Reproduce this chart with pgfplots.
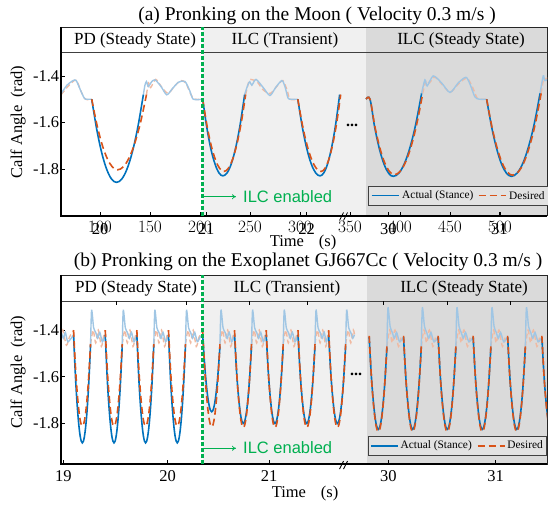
\documentclass[border=0pt]{standalone}
\usepackage{pgfplots}
\pgfplotsset{compat=1.18}
\usepackage{pgfplotstable}
\usetikzlibrary{arrows.meta}
\usepackage{fontspec}
\setmainfont{Liberation Serif}
\newfontfamily\arialfont{Liberation Sans}
\definecolor{mblue}{RGB}{0,114,189}
\definecolor{morange}{RGB}{217,83,25}
\definecolor{flblue}{RGB}{160,198,228}
\definecolor{florange}{RGB}{240,186,162}
\definecolor{ilcgreen}{RGB}{0,176,80}
\definecolor{shadeA}{RGB}{240,240,240}
\definecolor{shadeB}{RGB}{218,218,218}
\definecolor{legfill}{RGB}{226,226,226}
\newcommand{\fs}[1]{\fontsize{#1}{#1}\selectfont}

% ---------------- Panel (a): Moon ----------------
\pgfplotstableread[row sep=\\]{t v\\
19.92 -1.500\\ 19.968 -1.6285\\ 20.016 -1.7285\\ 20.064 -1.7999\\ 20.112 -1.8427\\ 20.16 -1.857\\ 20.212 -1.8419\\ 20.264 -1.7967\\ 20.316 -1.7213\\ 20.368 -1.6157\\ 20.42 -1.480\\
20.70 nan\\
20.994 -1.500\\ 21.033 -1.6184\\ 21.072 -1.7106\\ 21.112 -1.7764\\ 21.151 -1.8158\\ 21.19 -1.829\\ 21.232 -1.815\\ 21.274 -1.7732\\ 21.316 -1.7034\\ 21.358 -1.6056\\ 21.40 -1.480\\
21.60 nan\\
21.915 -1.500\\ 21.958 -1.6184\\ 22.001 -1.7106\\ 22.044 -1.7764\\ 22.087 -1.8158\\ 22.13 -1.829\\ 22.168 -1.815\\ 22.206 -1.7732\\ 22.244 -1.7034\\ 22.282 -1.6056\\ 22.32 -1.480\\
}\aBL
\pgfplotstableread[row sep=\\]{t v\\
19.92 -1.500\\ 19.97 -1.609\\ 20.02 -1.694\\ 20.07 -1.7545\\ 20.12 -1.7909\\ 20.17 -1.803\\ 20.226 -1.7901\\ 20.282 -1.7513\\ 20.338 -1.6867\\ 20.394 -1.5963\\ 20.45 -1.480\\
20.70 nan\\
20.994 -1.500\\ 21.035 -1.6116\\ 21.076 -1.6984\\ 21.118 -1.7604\\ 21.159 -1.7976\\ 21.20 -1.810\\ 21.242 -1.7968\\ 21.284 -1.7572\\ 21.326 -1.6912\\ 21.368 -1.5988\\ 21.41 -1.480\\
21.60 nan\\
21.915 -1.500\\ 21.96 -1.6116\\ 22.005 -1.6984\\ 22.05 -1.7604\\ 22.095 -1.7976\\ 22.14 -1.810\\ 22.178 -1.7968\\ 22.216 -1.7572\\ 22.254 -1.6912\\ 22.292 -1.5988\\ 22.33 -1.480\\
}\aOL
\pgfplotstableread[row sep=\\]{t v\\
29.80 -1.500\\ 29.835 -1.500\\ 29.877 -1.6192\\ 29.919 -1.7118\\ 29.961 -1.778\\ 30.003 -1.8178\\ 30.045 -1.831\\ 30.096 -1.8168\\ 30.147 -1.774\\ 30.198 -1.7028\\ 30.249 -1.6032\\ 30.30 -1.475\\
30.60 nan\\
30.886 -1.500\\ 30.931 -1.6192\\ 30.976 -1.7118\\ 31.020 -1.778\\ 31.065 -1.8178\\ 31.11 -1.831\\ 31.161 -1.8168\\ 31.213 -1.774\\ 31.264 -1.7028\\ 31.316 -1.6032\\ 31.367 -1.475\\
}\aBR
\pgfplotstableread[row sep=\\]{t v\\
29.80 -1.500\\ 29.835 -1.500\\ 29.879 -1.6166\\ 29.923 -1.7074\\ 29.967 -1.7722\\ 30.011 -1.811\\ 30.055 -1.824\\ 30.106 -1.810\\ 30.157 -1.7682\\ 30.208 -1.6984\\ 30.259 -1.6006\\ 30.31 -1.475\\
30.60 nan\\
30.886 -1.500\\ 30.933 -1.6174\\ 30.98 -1.7086\\ 31.026 -1.7738\\ 31.073 -1.813\\ 31.12 -1.826\\ 31.171 -1.812\\ 31.223 -1.7698\\ 31.274 -1.6996\\ 31.326 -1.6014\\ 31.377 -1.475\\
}\aOR
\pgfplotstableread[row sep=\\]{t v\\
19.625 -1.475\\ 19.68 -1.44\\ 19.74 -1.42\\ 19.77 -1.42\\ 19.81 -1.46\\ 19.85 -1.497\\ 19.88 -1.5\\ 19.92 -1.5\\
20.20 nan\\
20.42 -1.48\\ 20.435 -1.44\\ 20.45 -1.424\\ 20.468 -1.446\\ 20.50 -1.425\\ 20.533 -1.417\\ 20.59 -1.445\\ 20.646 -1.481\\ 20.70 -1.455\\ 20.76 -1.427\\ 20.823 -1.424\\ 20.87 -1.465\\ 20.903 -1.5\\ 20.994 -1.5\\
21.20 nan\\
21.40 -1.48\\ 21.43 -1.44\\ 21.45 -1.425\\ 21.47 -1.44\\ 21.51 -1.415\\ 21.58 -1.45\\ 21.645 -1.484\\ 21.70 -1.45\\ 21.76 -1.42\\ 21.79 -1.445\\ 21.82 -1.495\\ 21.85 -1.5\\ 21.915 -1.5\\
}\aBFL
\pgfplotstableread[row sep=\\]{t v\\
19.625 -1.48\\ 19.68 -1.45\\ 19.75 -1.42\\ 19.78 -1.425\\ 19.82 -1.47\\ 19.86 -1.5\\ 19.92 -1.5\\
20.20 nan\\
20.45 -1.48\\ 20.47 -1.43\\ 20.49 -1.45\\ 20.54 -1.415\\ 20.60 -1.45\\ 20.66 -1.475\\ 20.72 -1.445\\ 20.78 -1.42\\ 20.83 -1.43\\ 20.88 -1.48\\ 20.92 -1.5\\ 20.994 -1.5\\
21.20 nan\\
21.41 -1.48\\ 21.44 -1.425\\ 21.46 -1.415\\ 21.52 -1.425\\ 21.58 -1.46\\ 21.65 -1.475\\ 21.72 -1.44\\ 21.77 -1.42\\ 21.81 -1.46\\ 21.84 -1.5\\ 21.915 -1.5\\
}\aOFL
\pgfplotstableread[row sep=\\]{t v\\
30.30 -1.475\\ 30.33 -1.417\\ 30.35 -1.443\\ 30.405 -1.40\\ 30.48 -1.43\\ 30.556 -1.471\\ 30.63 -1.43\\ 30.70 -1.406\\ 30.74 -1.44\\ 30.78 -1.49\\ 30.82 -1.5\\ 30.886 -1.5\\
31.10 nan\\
31.367 -1.475\\ 31.396 -1.40\\ 31.41 -1.42\\ 31.45 -1.41\\
}\aBFR
\pgfplotstableread[row sep=\\]{t v\\
30.31 -1.475\\ 30.34 -1.42\\ 30.37 -1.43\\ 30.42 -1.405\\ 30.50 -1.445\\ 30.56 -1.47\\ 30.64 -1.43\\ 30.71 -1.41\\ 30.76 -1.45\\ 30.80 -1.495\\ 30.84 -1.5\\ 30.886 -1.5\\
31.10 nan\\
31.377 -1.475\\ 31.40 -1.41\\ 31.42 -1.415\\ 31.45 -1.40\\
}\aOFR

% ---------------- Panel (b): GJ667Cc ----------------
\pgfplotstableread[row sep=\\]{t v\\
19.100 -1.42\\ 19.121 -1.6226\\ 19.143 -1.7672\\ 19.164 -1.8541\\ 19.185 -1.883\\ 19.205 -1.8569\\ 19.225 -1.7785\\ 19.245 -1.6479\\ 19.265 -1.465\\ 19.30 nan\\
19.408 -1.42\\ 19.429 -1.6226\\ 19.451 -1.7672\\ 19.472 -1.8541\\ 19.493 -1.883\\ 19.513 -1.8569\\ 19.533 -1.7785\\ 19.553 -1.6479\\ 19.573 -1.465\\ 19.60 nan\\
19.715 -1.42\\ 19.736 -1.6226\\ 19.758 -1.7672\\ 19.779 -1.8541\\ 19.800 -1.883\\ 19.820 -1.8569\\ 19.840 -1.7785\\ 19.860 -1.6479\\ 19.880 -1.465\\ 19.90 nan\\
20.023 -1.42\\ 20.044 -1.6226\\ 20.066 -1.7672\\ 20.087 -1.8541\\ 20.108 -1.883\\ 20.128 -1.8569\\ 20.148 -1.7785\\ 20.168 -1.6479\\ 20.188 -1.465\\ 20.25 nan\\
20.355 -1.42\\ 20.377 -1.5644\\ 20.399 -1.6675\\ 20.421 -1.7294\\ 20.443 -1.75\\ 20.463 -1.7325\\ 20.483 -1.68\\ 20.503 -1.5925\\ 20.523 -1.47\\ 20.60 nan\\
20.665 -1.42\\ 20.686 -1.5862\\ 20.708 -1.705\\ 20.729 -1.7763\\ 20.750 -1.80\\ 20.770 -1.7794\\ 20.790 -1.7175\\ 20.810 -1.6144\\ 20.830 -1.47\\ 20.90 nan\\
20.973 -1.42\\ 20.994 -1.5862\\ 21.016 -1.705\\ 21.037 -1.7763\\ 21.058 -1.80\\ 21.078 -1.7794\\ 21.098 -1.7175\\ 21.118 -1.6144\\ 21.138 -1.47\\ 21.20 nan\\
21.282 -1.42\\ 21.303 -1.5862\\ 21.325 -1.705\\ 21.346 -1.7763\\ 21.367 -1.80\\ 21.387 -1.7794\\ 21.407 -1.7175\\ 21.427 -1.6144\\ 21.447 -1.47\\ 21.50 nan\\
21.580 -1.42\\ 21.601 -1.5862\\ 21.623 -1.705\\ 21.644 -1.7763\\ 21.665 -1.80\\ 21.685 -1.7794\\ 21.705 -1.7175\\ 21.725 -1.6144\\ 21.745 -1.47\\
}\bBL
\pgfplotstableread[row sep=\\]{t v\\
19.100 -1.40\\ 19.121 -1.5798\\ 19.143 -1.7082\\ 19.164 -1.7853\\ 19.185 -1.811\\ 19.205 -1.7891\\ 19.225 -1.7232\\ 19.245 -1.6136\\ 19.265 -1.46\\ 19.30 nan\\
19.408 -1.40\\ 19.429 -1.5798\\ 19.451 -1.7082\\ 19.472 -1.7853\\ 19.493 -1.811\\ 19.513 -1.7891\\ 19.533 -1.7232\\ 19.553 -1.6136\\ 19.573 -1.46\\ 19.60 nan\\
19.715 -1.40\\ 19.736 -1.5798\\ 19.758 -1.7082\\ 19.779 -1.7853\\ 19.800 -1.811\\ 19.820 -1.7891\\ 19.840 -1.7232\\ 19.860 -1.6136\\ 19.880 -1.46\\ 19.90 nan\\
20.023 -1.40\\ 20.044 -1.5798\\ 20.066 -1.7082\\ 20.087 -1.7853\\ 20.108 -1.811\\ 20.128 -1.7891\\ 20.148 -1.7232\\ 20.168 -1.6136\\ 20.188 -1.46\\ 20.25 nan\\
20.355 -1.40\\ 20.377 -1.5811\\ 20.399 -1.7105\\ 20.421 -1.7881\\ 20.443 -1.814\\ 20.463 -1.7919\\ 20.483 -1.7255\\ 20.503 -1.6149\\ 20.523 -1.46\\ 20.60 nan\\
20.665 -1.40\\ 20.686 -1.5824\\ 20.708 -1.7128\\ 20.729 -1.7909\\ 20.750 -1.817\\ 20.770 -1.7947\\ 20.790 -1.7278\\ 20.810 -1.6162\\ 20.830 -1.46\\ 20.90 nan\\
20.973 -1.40\\ 20.994 -1.5824\\ 21.016 -1.7128\\ 21.037 -1.7909\\ 21.058 -1.817\\ 21.078 -1.7947\\ 21.098 -1.7278\\ 21.118 -1.6162\\ 21.138 -1.46\\ 21.20 nan\\
21.282 -1.40\\ 21.303 -1.5824\\ 21.325 -1.7128\\ 21.346 -1.7909\\ 21.367 -1.817\\ 21.387 -1.7947\\ 21.407 -1.7278\\ 21.427 -1.6162\\ 21.447 -1.46\\ 21.50 nan\\
21.580 -1.40\\ 21.601 -1.5824\\ 21.623 -1.7128\\ 21.644 -1.7909\\ 21.665 -1.817\\ 21.685 -1.7947\\ 21.705 -1.7278\\ 21.725 -1.6162\\ 21.745 -1.46\\
}\bOL
\pgfplotstableread[row sep=\\]{t v\\
29.822 -1.43\\ 29.843 -1.6028\\ 29.865 -1.7263\\ 29.886 -1.8003\\ 29.907 -1.825\\ 29.927 -1.8031\\ 29.947 -1.7375\\ 29.967 -1.6281\\ 29.987 -1.475\\ 30.05 nan\\
30.142 -1.43\\ 30.163 -1.6028\\ 30.185 -1.7263\\ 30.206 -1.8003\\ 30.227 -1.825\\ 30.247 -1.8031\\ 30.267 -1.7375\\ 30.287 -1.6281\\ 30.307 -1.475\\ 30.40 nan\\
30.464 -1.43\\ 30.485 -1.6028\\ 30.507 -1.7263\\ 30.528 -1.8003\\ 30.549 -1.825\\ 30.569 -1.8031\\ 30.589 -1.7375\\ 30.609 -1.6281\\ 30.629 -1.475\\ 30.70 nan\\
30.790 -1.43\\ 30.811 -1.6028\\ 30.833 -1.7263\\ 30.854 -1.8003\\ 30.875 -1.825\\ 30.895 -1.8031\\ 30.915 -1.7375\\ 30.935 -1.6281\\ 30.955 -1.475\\ 31.05 nan\\
31.111 -1.43\\ 31.132 -1.6028\\ 31.154 -1.7263\\ 31.175 -1.8003\\ 31.196 -1.825\\ 31.216 -1.8031\\ 31.236 -1.7375\\ 31.256 -1.6281\\ 31.276 -1.475\\ 31.35 nan\\
31.430 -1.43\\ 31.451 -1.6028\\ 31.473 -1.7263\\ 31.494 -1.8003\\ 31.515 -1.825\\
}\bBR
\pgfplotstableread[row sep=\\]{t v\\
29.822 -1.425\\ 29.843 -1.6044\\ 29.865 -1.7325\\ 29.886 -1.8094\\ 29.907 -1.835\\ 29.927 -1.8122\\ 29.947 -1.7438\\ 29.967 -1.6297\\ 29.987 -1.47\\ 30.05 nan\\
30.142 -1.425\\ 30.163 -1.6044\\ 30.185 -1.7325\\ 30.206 -1.8094\\ 30.227 -1.835\\ 30.247 -1.8122\\ 30.267 -1.7438\\ 30.287 -1.6297\\ 30.307 -1.47\\ 30.40 nan\\
30.464 -1.425\\ 30.485 -1.6044\\ 30.507 -1.7325\\ 30.528 -1.8094\\ 30.549 -1.835\\ 30.569 -1.8122\\ 30.589 -1.7438\\ 30.609 -1.6297\\ 30.629 -1.47\\ 30.70 nan\\
30.790 -1.425\\ 30.811 -1.6044\\ 30.833 -1.7325\\ 30.854 -1.8094\\ 30.875 -1.835\\ 30.895 -1.8122\\ 30.915 -1.7438\\ 30.935 -1.6297\\ 30.955 -1.47\\ 31.05 nan\\
31.111 -1.425\\ 31.132 -1.6044\\ 31.154 -1.7325\\ 31.175 -1.8094\\ 31.196 -1.835\\ 31.216 -1.8122\\ 31.236 -1.7438\\ 31.256 -1.6297\\ 31.276 -1.47\\ 31.35 nan\\
31.430 -1.425\\ 31.451 -1.6044\\ 31.473 -1.7325\\ 31.494 -1.8094\\ 31.515 -1.835\\
}\bOR
\pgfplotstableread[row sep=\\]{t v\\
18.975 -1.40\\ 19.00 -1.435\\ 19.02 -1.41\\ 19.045 -1.45\\ 19.10 -1.42\\ 19.15 nan\\
19.265 -1.465\\ 19.275 -1.315\\ 19.295 -1.39\\ 19.315 -1.41\\ 19.335 -1.435\\ 19.355 -1.41\\ 19.38 -1.45\\ 19.408 -1.42\\ 19.45 nan\\
19.573 -1.465\\ 19.583 -1.315\\ 19.603 -1.39\\ 19.623 -1.41\\ 19.643 -1.435\\ 19.663 -1.41\\ 19.688 -1.45\\ 19.715 -1.42\\ 19.75 nan\\
19.88 -1.465\\ 19.89 -1.315\\ 19.91 -1.39\\ 19.93 -1.41\\ 19.95 -1.435\\ 19.97 -1.41\\ 19.995 -1.45\\ 20.023 -1.42\\ 20.06 nan\\
20.188 -1.465\\ 20.198 -1.315\\ 20.218 -1.39\\ 20.238 -1.41\\ 20.258 -1.435\\ 20.278 -1.41\\ 20.303 -1.45\\ 20.33 -1.43\\ 20.355 -1.42\\ 20.40 nan\\
20.523 -1.47\\ 20.533 -1.315\\ 20.553 -1.39\\ 20.573 -1.41\\ 20.593 -1.435\\ 20.613 -1.41\\ 20.638 -1.45\\ 20.665 -1.42\\ 20.70 nan\\
20.83 -1.47\\ 20.84 -1.315\\ 20.86 -1.39\\ 20.88 -1.41\\ 20.90 -1.435\\ 20.92 -1.41\\ 20.945 -1.45\\ 20.973 -1.42\\ 21.00 nan\\
21.138 -1.47\\ 21.148 -1.315\\ 21.168 -1.39\\ 21.188 -1.41\\ 21.208 -1.435\\ 21.228 -1.41\\ 21.253 -1.45\\ 21.282 -1.42\\ 21.32 nan\\
21.447 -1.47\\ 21.457 -1.315\\ 21.477 -1.39\\ 21.497 -1.41\\ 21.517 -1.435\\ 21.537 -1.41\\ 21.557 -1.45\\ 21.58 -1.42\\ 21.62 nan\\
21.745 -1.47\\ 21.755 -1.315\\ 21.775 -1.39\\ 21.795 -1.41\\ 21.815 -1.435\\ 21.83 -1.42\\
}\bBFL
\pgfplotstableread[row sep=\\]{t v\\
18.975 -1.44\\ 18.995 -1.40\\ 19.03 -1.465\\ 19.06 -1.43\\ 19.10 -1.40\\ 19.15 nan\\
19.265 -1.46\\ 19.29 -1.40\\ 19.315 -1.455\\ 19.34 -1.40\\ 19.37 -1.47\\ 19.39 -1.43\\ 19.408 -1.40\\ 19.45 nan\\
19.573 -1.46\\ 19.598 -1.40\\ 19.623 -1.455\\ 19.648 -1.40\\ 19.678 -1.47\\ 19.698 -1.43\\ 19.715 -1.40\\ 19.75 nan\\
19.88 -1.46\\ 19.905 -1.40\\ 19.93 -1.455\\ 19.955 -1.40\\ 19.985 -1.47\\ 20.005 -1.43\\ 20.023 -1.40\\ 20.06 nan\\
20.188 -1.46\\ 20.213 -1.40\\ 20.238 -1.455\\ 20.263 -1.40\\ 20.293 -1.47\\ 20.32 -1.43\\ 20.355 -1.40\\ 20.40 nan\\
20.523 -1.46\\ 20.548 -1.40\\ 20.573 -1.455\\ 20.598 -1.40\\ 20.628 -1.47\\ 20.648 -1.43\\ 20.665 -1.40\\ 20.70 nan\\
20.83 -1.46\\ 20.855 -1.40\\ 20.88 -1.455\\ 20.905 -1.40\\ 20.935 -1.47\\ 20.955 -1.43\\ 20.973 -1.40\\ 21.00 nan\\
21.138 -1.46\\ 21.163 -1.40\\ 21.188 -1.455\\ 21.213 -1.40\\ 21.243 -1.47\\ 21.263 -1.43\\ 21.282 -1.40\\ 21.32 nan\\
21.447 -1.46\\ 21.472 -1.40\\ 21.497 -1.455\\ 21.522 -1.40\\ 21.552 -1.47\\ 21.567 -1.43\\ 21.58 -1.40\\ 21.62 nan\\
21.745 -1.46\\ 21.77 -1.40\\ 21.795 -1.455\\ 21.82 -1.40\\ 21.835 -1.43\\
}\bOFL
\pgfplotstableread[row sep=\\]{t v\\
29.987 -1.475\\ 29.997 -1.305\\ 30.017 -1.385\\ 30.037 -1.41\\ 30.057 -1.435\\ 30.077 -1.41\\ 30.105 -1.45\\ 30.142 -1.43\\ 30.20 nan\\
30.307 -1.475\\ 30.317 -1.305\\ 30.337 -1.385\\ 30.357 -1.41\\ 30.377 -1.435\\ 30.397 -1.41\\ 30.425 -1.45\\ 30.464 -1.43\\ 30.50 nan\\
30.629 -1.475\\ 30.639 -1.305\\ 30.659 -1.385\\ 30.679 -1.41\\ 30.699 -1.435\\ 30.719 -1.41\\ 30.75 -1.45\\ 30.79 -1.43\\ 30.85 nan\\
30.955 -1.475\\ 30.965 -1.305\\ 30.985 -1.385\\ 31.005 -1.41\\ 31.025 -1.435\\ 31.045 -1.41\\ 31.075 -1.45\\ 31.111 -1.43\\ 31.15 nan\\
31.276 -1.475\\ 31.286 -1.305\\ 31.306 -1.385\\ 31.326 -1.41\\ 31.346 -1.435\\ 31.366 -1.41\\ 31.395 -1.45\\ 31.43 -1.43\\
}\bBFR
\pgfplotstableread[row sep=\\]{t v\\
29.987 -1.47\\ 30.012 -1.40\\ 30.037 -1.455\\ 30.062 -1.40\\ 30.095 -1.47\\ 30.12 -1.43\\ 30.142 -1.425\\ 30.20 nan\\
30.307 -1.47\\ 30.332 -1.40\\ 30.357 -1.455\\ 30.382 -1.40\\ 30.415 -1.47\\ 30.44 -1.43\\ 30.464 -1.425\\ 30.50 nan\\
30.629 -1.47\\ 30.654 -1.40\\ 30.679 -1.455\\ 30.704 -1.40\\ 30.737 -1.47\\ 30.765 -1.43\\ 30.79 -1.425\\ 30.85 nan\\
30.955 -1.47\\ 30.98 -1.40\\ 31.005 -1.455\\ 31.03 -1.40\\ 31.063 -1.47\\ 31.09 -1.43\\ 31.111 -1.425\\ 31.15 nan\\
31.276 -1.47\\ 31.301 -1.40\\ 31.326 -1.455\\ 31.351 -1.40\\ 31.384 -1.47\\ 31.41 -1.43\\ 31.43 -1.425\\
}\bOFR

\pgfplotsset{
  legend image code/.code={\draw[#1] (0pt,0pt) -- (27pt,0pt);},
  panel/.style={
    scale only axis, width=486.3pt,
    xmin=60.7, xmax=547,
    axis line style={black!85, line width=0.9pt},
    tick align=inside, xtick pos=left, ytick pos=left,
    major tick length=4pt,
    tick style={black, line width=0.7pt},
    ytick={-1.8,-1.6,-1.4}, yticklabels={-1.8,-1.6,-1.4},
    ticklabel style={font=\fs{16.5}},
    yticklabel style={xshift=2pt},
    xticklabel style={yshift=-2.5pt},
    clip mode=individual,
    unbounded coords=jump,
    legend cell align=left,
    legend columns=2,
    legend style={draw=black!75, fill=legfill, font=\fs{11.4},
      inner xsep=1.5pt, inner ysep=3pt,
      /tikz/every even column/.append style={column sep=3pt}},
  },
  flB/.style={flblue, line width=1.4pt, smooth, tension=0.45},
  flO/.style={florange, line width=1.4pt, smooth, tension=0.45, dash pattern=on 5pt off 3pt},
  stB/.style={mblue, line width=1.6pt, smooth, tension=0.6},
  stO/.style={morange, line width=1.6pt, smooth, tension=0.6, dash pattern=on 7pt off 4pt},
  legB/.style={mblue, line width=1.6pt},
  legO/.style={morange, line width=1.6pt, dash pattern=on 7pt off 4pt},
}

\begin{document}
\begin{tikzpicture}[x=1pt,y=1pt]
\useasboundingbox (0pt,0pt) rectangle (548pt,505pt);
% background regions
\fill[shadeA] (202.5,289.3) rectangle (366,478);
\fill[shadeB] (366,289.3) rectangle (547,478);
\fill[shadeA] (202.5,40.7) rectangle (366.7,230);
\fill[shadeB] (366.7,40.7) rectangle (547,230);

% ================= Panel (a) =================
\begin{axis}[panel, at={(60.7pt,289.3pt)}, anchor=south west, height=188.7pt,
  ymin=-2.0, ymax=-1.19]
\addplot[flO, forget plot] table[x expr={100+(\thisrow{t}-20)*103.3}, y=v] {\aOFL};
\addplot[flB, forget plot] table[x expr={100+(\thisrow{t}-20)*103.3}, y=v] {\aBFL};
\addplot[flO, forget plot] table[x expr={388.3+(\thisrow{t}-30)*111}, y=v] {\aOFR};
\addplot[flB, forget plot] table[x expr={388.3+(\thisrow{t}-30)*111}, y=v] {\aBFR};
\addplot[stB, forget plot] table[x expr={100+(\thisrow{t}-20)*103.3}, y=v] {\aBL};
\addplot[stO, forget plot] table[x expr={100+(\thisrow{t}-20)*103.3}, y=v] {\aOL};
\addplot[stB, forget plot] table[x expr={388.3+(\thisrow{t}-30)*111}, y=v] {\aBR};
\addplot[stO, forget plot] table[x expr={388.3+(\thisrow{t}-30)*111}, y=v] {\aOR};
\end{axis}

% ================= Panel (b) =================
\begin{axis}[panel, at={(60.7pt,40.7pt)}, anchor=south west, height=189.3pt,
  ymin=-1.975, ymax=-1.164,
  xtick={63.3,167.7,269,388.3,495.7}, xticklabels={19,20,21,30,31},
  legend style={at={(axis cs:368.3,-1.853)}, anchor=north west}]
\addlegendimage{legB}
\addlegendentry{Actual (Stance)}
\addlegendimage{legO}
\addlegendentry{Desired}
\addplot[flO, forget plot] table[x expr={63.3+(\thisrow{t}-19)*102.85}, y=v] {\bOFL};
\addplot[flB, forget plot] table[x expr={63.3+(\thisrow{t}-19)*102.85}, y=v] {\bBFL};
\addplot[flO, forget plot] table[x expr={388.3+(\thisrow{t}-30)*107.4}, y=v] {\bOFR};
\addplot[flB, forget plot] table[x expr={388.3+(\thisrow{t}-30)*107.4}, y=v] {\bBFR};
\addplot[stB, forget plot] table[x expr={63.3+(\thisrow{t}-19)*102.85}, y=v] {\bBL};
\addplot[stO, forget plot] table[x expr={63.3+(\thisrow{t}-19)*102.85}, y=v] {\bOL};
\addplot[stB, forget plot] table[x expr={388.3+(\thisrow{t}-30)*107.4}, y=v] {\bBR};
\addplot[stO, forget plot] table[x expr={388.3+(\thisrow{t}-30)*107.4}, y=v] {\bOR};
\end{axis}

% x tick labels and ticks of panel (a)
\foreach \x/\l in {100/20,206/21,306.7/22,388.3/30,499.3/31} {
  \draw[black, line width=0.7pt] (\x,289.3) -- (\x,293.3);
  \node[font=\fs{16.5}] at (\x,275.8) {\l};
}

% legend of panel (a)
\draw[black!75, line width=0.5pt, fill=legfill] (368.3,299.5) rectangle (560,319);
\draw[mblue, line width=1.6pt] (371.5,309.3) -- (398.5,309.3);
\node[anchor=west, font=\fs{11.4}, inner sep=0pt] at (402,309.3) {Actual (Stance)};
\draw[morange, line width=1.6pt, dash pattern=on 7pt off 4pt] (478.5,309.3) -- (505.5,309.3);
\node[anchor=west, font=\fs{11.4}, inner sep=0pt] at (509,309.3) {Desired};

% ---------- frames, header lines ----------
\draw[black!75, line width=1pt] (60.7,452.3) -- (547,452.3);
\draw[black!75, line width=1pt] (60.7,203.5) -- (547,203.5);
\draw[black, line width=2.3pt] (60.7,478) -- (60.7,289.3) -- (547,289.3);
\draw[black, line width=2.3pt] (60.7,230) -- (60.7,40.7) -- (547,40.7);
\foreach \x in {116,186.7,249,307.7,383.3,447.7,510.7} \draw[black, line width=0.7pt] (\x,203.5) -- (\x,199.5);

% green ILC-enabled lines
\draw[ilcgreen, line width=2.6pt, dash pattern=on 4pt off 2pt] (202.5,289.3) -- (202.5,478);
\draw[ilcgreen, line width=2.6pt, dash pattern=on 4pt off 2pt] (202.5,40.7) -- (202.5,230);
\draw[ilcgreen, line width=0.8pt, -{To[length=4pt,width=5pt]}] (204,308.3) -- (236,308.3);
\node[anchor=west, text=ilcgreen, font=\arialfont\fs{16.5}, inner sep=0pt] at (243,308.6) {ILC enabled};
\draw[ilcgreen, line width=0.8pt, -{To[length=4pt,width=5pt]}] (204,56.7) -- (236,56.7);
\node[anchor=west, text=ilcgreen, font=\arialfont\fs{16.5}, inner sep=0pt] at (243,57.0) {ILC enabled};

% break marks
\draw[black, line width=0.8pt] (339.5,284.5) -- (343.5,292.5);
\draw[black, line width=0.8pt] (343.5,284.5) -- (347.5,292.5);
\draw[black, line width=0.8pt] (339.5,35.9) -- (343.5,43.9);
\draw[black, line width=0.8pt] (343.5,35.9) -- (347.5,43.9);

% ellipses
\node[font=\fs{16}\bfseries] at (352,380) {...};
\node[font=\fs{16}\bfseries] at (356,131) {...};

% header texts
\node[font=\fs{17}] at (135,465) {PD (Steady State)};
\node[font=\fs{17}] at (285,465) {ILC (Transient)};
\node[font=\fs{17}] at (461,465) {ILC (Steady State)};
\node[font=\fs{17}] at (136,216.5) {PD (Steady State)};
\node[font=\fs{17}] at (287,216.5) {ILC (Transient)};
\node[font=\fs{17}] at (464,216.5) {ILC (Steady State)};

% titles
\node[font=\fs{19.5}] at (317,489.3) {(a) Pronking on the Moon ( Velocity 0.3 m/s )};
\node[font=\fs{19.5}] at (308,243.3) {(b) Pronking on the Exoplanet GJ667Cc ( Velocity 0.3 m/s )};

% axis labels
\node[font=\fs{16.5}, rotate=90] at (18,383) {Calf Angle\hspace{0.45em}(rad)};
\node[font=\fs{16.5}, rotate=90] at (18,133) {Calf Angle\hspace{0.45em}(rad)};
\node[font=\fs{16.5}] at (303,262.5) {Time\hspace{0.9em}(s)};
\node[font=\fs{16.5}] at (305,11) {Time\hspace{0.9em}(s)};
\end{tikzpicture}
\end{document}
